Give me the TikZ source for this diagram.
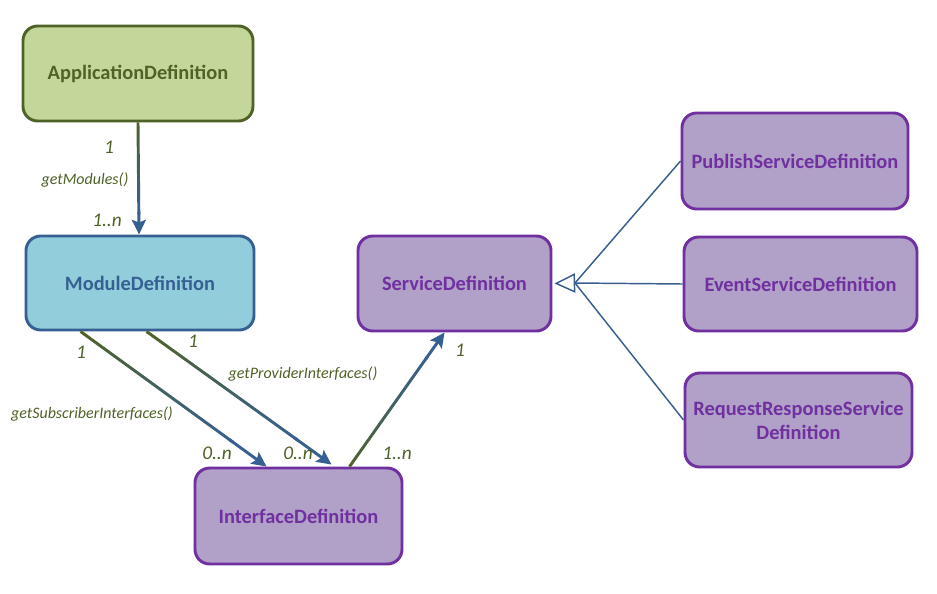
\documentclass[tikz,border=0pt]{standalone}
\usepackage{fontspec}
\setmainfont{Carlito}
\usetikzlibrary{arrows.meta,calc}
\definecolor{olivec}{HTML}{4F6228}
\definecolor{greenfill}{HTML}{C4D79B}
\definecolor{bluefill}{HTML}{92CDDC}
\definecolor{blueline}{HTML}{376092}
\definecolor{purpfill}{HTML}{B1A0C7}
\definecolor{purpline}{HTML}{7030A0}
\definecolor{genline}{HTML}{3A5F8F}
\tikzset{
  box/.style n args={2}{rounded corners=11pt, line width=2.2pt, font=\fontsize{15.3}{18}\selectfont\bfseries,
     minimum width=#1*0.75pt, minimum height=#2*0.75pt, align=center, inner sep=0pt},
  gbox/.style={draw=olivec, fill=greenfill, text=olivec},
  bbox/.style={draw=blueline, fill=bluefill, text=blueline},
  pbox/.style={draw=purpline, fill=purpfill, text=purpline},
  mult/.style={font=\fontsize{14.5}{17}\selectfont\itshape, text=olivec, inner sep=0pt},
  meth/.style={font=\fontsize{12}{14}\selectfont\itshape, text=olivec, inner sep=0pt},
  conn/.style={line width=2.2pt, draw=blueline, -{Stealth[length=11pt,width=10.5pt,inset=2pt]}},
  gen/.style={line width=1.1pt, draw=genline},
}
\newcommand\gradline[2]{%
  \draw[conn] ($(#1)!0.8!(#2)$) -- (#2);
  \path let \p1=($(#2)-(#1)$) in \pgfextra{%
     \pgfmathsetmacro\myang{atan2(\y1,\x1)}\xdef\myangg{\myang}%
     \pgfmathsetmacro\mylen{veclen(\x1,\y1)}\xdef\mylenn{\mylen}};
  \shade[transform canvas={shift={(#1)},rotate=\myangg}, left color=olivec, right color=blueline]
     (0pt,-1.1pt) rectangle ({0.82*\mylenn pt},1.1pt);
}
\begin{document}
\begin{tikzpicture}[x=0.75pt,y=-0.75pt]
\useasboundingbox[fill=white] (0,0) rectangle (937,593);
\node[box={230}{95}, gbox] (app) at (138,73.5) {ApplicationDefinition};
\node[box={228}{94}, bbox] (mod) at (140,283) {ModuleDefinition};
\node[box={193}{95}, pbox] (svc) at (454.5,283.5) {ServiceDefinition};
\node[box={207}{96}, pbox] (intf) at (298.5,516) {InterfaceDefinition};
\node[box={226}{96}, pbox] (pub) at (795,161) {PublishServiceDefinition};
\node[box={233}{94}, pbox] (evt) at (800.5,284) {EventServiceDefinition};
\node[box={227}{94}, pbox] (rr) at (798.5,420) {RequestResponseService\\[0pt]Definition};

% connector end points
\coordinate (a1) at ($(app.south)+(0,0)$);
\coordinate (b1) at ($(mod.north)+(-1,0)$);
\coordinate (a2) at ($(mod.south west)+(56,0)$);
\coordinate (b2) at ($(intf.north west)+(73,0)$);
\coordinate (a3) at ($(mod.south west)+(122,0)$);
\coordinate (b3) at ($(intf.north west)+(138,-2)$);
\coordinate (a4) at ($(intf.north west)+(156,0)$);
\coordinate (b4) at ($(svc.south west)+(88,0)$);

\gradline{a1}{b1}
\gradline{a2}{b2}
\gradline{a3}{b3}
\gradline{a4}{b4}

% generalization
\coordinate (genbase) at (575,283);
\draw[gen] (pub.west) -- (genbase);
\draw[gen] (evt.west) -- (genbase);
\draw[gen] (rr.west) -- (genbase);
\draw[gen, -{Triangle[open,length=15.5pt,width=14.5pt]}] (genbase) -- ($(svc.east)+(2,0)$);

% labels
\node[mult] (l1) at (109,147) {1};
\node[meth] (m1) at (85,180) {getModules()};
\node[mult] (l2) at (107,220) {1..n};
\node[mult] (l3) at (81,352) {1};
\node[meth] (m2) at (92,414) {getSubscriberInterfaces()};
\node[mult] (l4) at (217,453) {0..n};
\node[mult] (l5) at (193,341) {1};
\node[meth] (m3) at (303,374) {getProviderInterfaces()};
\node[mult] (l6) at (298,453) {0..n};
\node[mult] (l7) at (460,350) {1};
\node[mult] (l8) at (397,453) {1..n};
\end{tikzpicture}
\end{document}
